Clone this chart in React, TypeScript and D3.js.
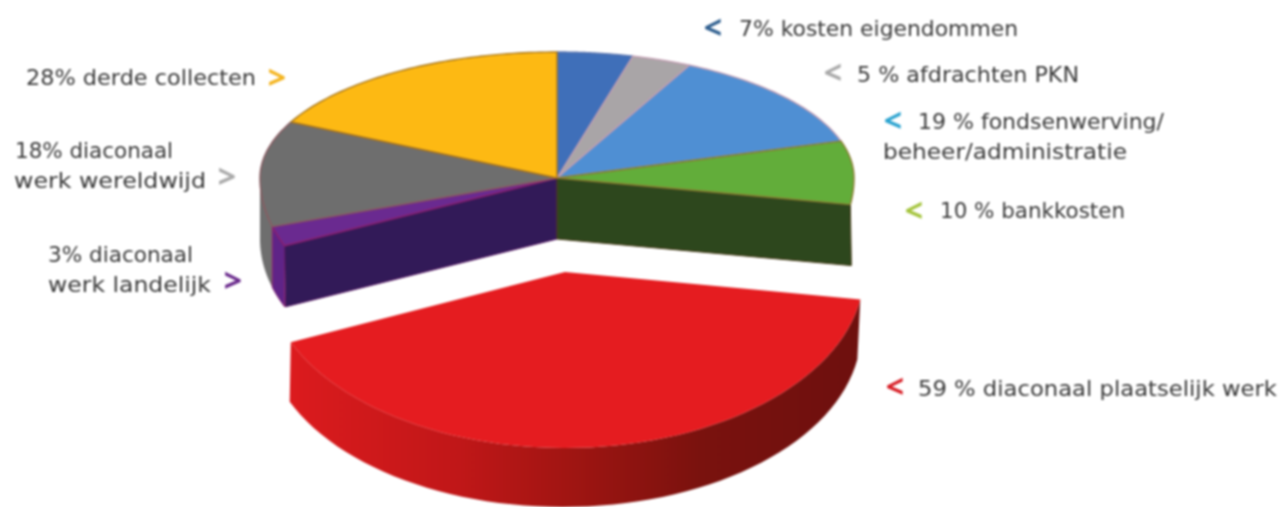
import React from "react";
import * as d3 from "d3";

// ---- data ----
const categories = ["kosten eigendommen", "afdrachten PKN", "fondsenwerving", "bankkosten", "diaconaal plaatselijk werk", "diaconaal werk landelijk", "diaconaal werk wereldwijd", "derde collecten"];
// the drawn size of each slice in degrees (the picture does not follow its printed percentages)
const sliceDegrees = [14.8, 11.7, 46.5, 26, 147.5, 6.9, 43, 63.6];
const sliceColors = ["#3f6fb9", "#a9a5a7", "#4f8fd3", "#62ad3a", "#e51c20", "#6a2a90", "#6e6e6e", "#fdb913"];
const sliceEdges = ["#5f78b0", "#c39db2", "#c39db2", "#8a7a30", "#e51c20", "#8c1f6e", "#8a5a60", "#a8761a"];
const labelLines = [
  ["7% kosten eigendommen"],
  ["5 % afdrachten PKN"],
  ["19 % fondsenwerving/", "beheer/administratie"],
  ["10 % bankkosten"],
  ["59 % diaconaal plaatselijk werk"],
  ["3% diaconaal", "werk landelijk"],
  ["18% diaconaal", "werk wereldwijd"],
  ["28% derde collecten"],
];
const markerGlyphs = ["<", "<", "<", "<", "<", ">", ">", ">"];
const markerColors = ["#2f5f8f", "#a9a9a9", "#2aa3d0", "#a4c43c", "#d81e26", "#6a2a8c", "#a9a9a9", "#f4b41e"];

// ---- layout ----
const W = 1281;
const H = 507;
const top = { cx: 557, cy: 178, rx: 297, back: 126, front: 170 };
const depth = 61;
const redTop = { cx: 565, cy: 272, rx: 299, back: 175, front: 176 };
const redBottom = { cx: 563, cy: 332, rx: 298, back: 175, front: 175 };
const labelBoxes = [
  [[739, 36, 279]],
  [[857, 82, 222]],
  [[918, 129, 246], [883, 159, 244]],
  [[940, 218, 185]],
  [[918, 396, 359]],
  [[48, 262, 145], [48, 292, 163]],
  [[15, 158, 158], [14, 188, 192]],
  [[26, 85, 230]],
];
const markerBoxes = [[713, 39], [833, 84], [893, 132], [914, 222], [895, 398], [233, 292], [227, 188], [277, 89]];

type Ell = { cx: number; cy: number; rx: number; back: number; front: number };
const rim = (e: Ell, t: number): [number, number] => {
  const c = Math.cos(t);
  return [e.cx + e.rx * Math.sin(t), e.cy - (c > 0 ? e.back : e.front) * c];
};
const samples = (a: number, b: number) => d3.range(0, 61).map((i) => a + ((b - a) * i) / 60);
const line = d3.line();
const sector = (e: Ell, a: number, b: number) =>
  line([[e.cx, e.cy], ...samples(a, b).map((t) => rim(e, t))]) + "Z";
const wallBetween = (upper: Ell, lower: Ell, a: number, b: number) =>
  line([...samples(a, b).map((t) => rim(upper, t)), ...samples(b, a).map((t) => rim(lower, t))]) + "Z";
const cutWall = (e: Ell, t: number) => {
  const [x, y] = rim(e, t);
  return line([[e.cx, e.cy], [x, y], [x + 1, y + depth], [e.cx, e.cy + depth]]) + "Z";
};

const slices = d3.pie<number>().sort(null).value((d) => d)(sliceDegrees);
const topLow: Ell = { ...top, cy: top.cy + depth };
const RED = 4;
const PURPLE = 5;
const GREY = 6;
const GREEN = 3;

export default function App() {
  const greyWallEnd = Math.PI * 1.5;
  return (
    <svg
      width={W}
      height={H}
      viewBox={`0 0 ${W} ${H}`}
      style={{ position: "absolute", left: 0, top: 0, display: "block", background: "#fff", filter: "blur(0.8px)" }}
    >
      <defs>
        <linearGradient id="redWall" gradientUnits="userSpaceOnUse" x1={288} x2={860} y1={0} y2={0}>
          <stop offset="0" stopColor="#dc1b1e" />
          <stop offset="0.3" stopColor="#c01718" />
          <stop offset="0.5" stopColor="#9f1512" />
          <stop offset="0.72" stopColor="#7a120e" />
          <stop offset="1" stopColor="#6e100e" />
        </linearGradient>
      </defs>

      {/* walls of the pie behind the cut */}
      <path d={wallBetween(top, topLow, slices[GREY].startAngle, greyWallEnd)} fill={sliceColors[GREY]} />
      <path d={wallBetween(top, topLow, slices[PURPLE].startAngle, slices[PURPLE].endAngle)} fill="#5f2487" stroke="#8c1f6e" strokeWidth={1} />
      <path d={cutWall(top, slices[RED].endAngle)} fill="#321a58" stroke="#5a1a66" strokeWidth={1} />
      <path d={cutWall(top, slices[GREEN].endAngle)} fill="#2d471d" stroke="#4a3a18" strokeWidth={1} />

      {/* top faces */}
      {slices.map((s, i) =>
        i === RED ? null : (
          <path key={categories[i]} d={sector(top, s.startAngle, s.endAngle)} fill={sliceColors[i]} stroke={sliceEdges[i]} strokeWidth={1.4} strokeLinejoin="round" />
        )
      )}

      {/* pulled-out slice */}
      <path d={wallBetween(redTop, redBottom, slices[RED].startAngle, slices[RED].endAngle)} fill="url(#redWall)" />
      <path d={sector(redTop, slices[RED].startAngle, slices[RED].endAngle)} fill={sliceColors[RED]} />

      {/* labels */}
      <g fontFamily="'DejaVu Sans', sans-serif" fontSize={21} fill="#3a3a3a">
        {labelLines.map((lines, i) =>
          lines.map((txt, j) => (
            <text key={txt} x={labelBoxes[i][j][0]} y={labelBoxes[i][j][1]} textLength={labelBoxes[i][j][2]} lengthAdjust="spacingAndGlyphs">
              {txt}
            </text>
          ))
        )}
      </g>
      <g fontFamily="'Open Sans', sans-serif" fontSize={32} fontWeight={700} textAnchor="middle">
        {markerGlyphs.map((g, i) => (
          <text key={categories[i]} x={markerBoxes[i][0]} y={markerBoxes[i][1]} fill={markerColors[i]}>
            {g}
          </text>
        ))}
      </g>
    </svg>
  );
}
